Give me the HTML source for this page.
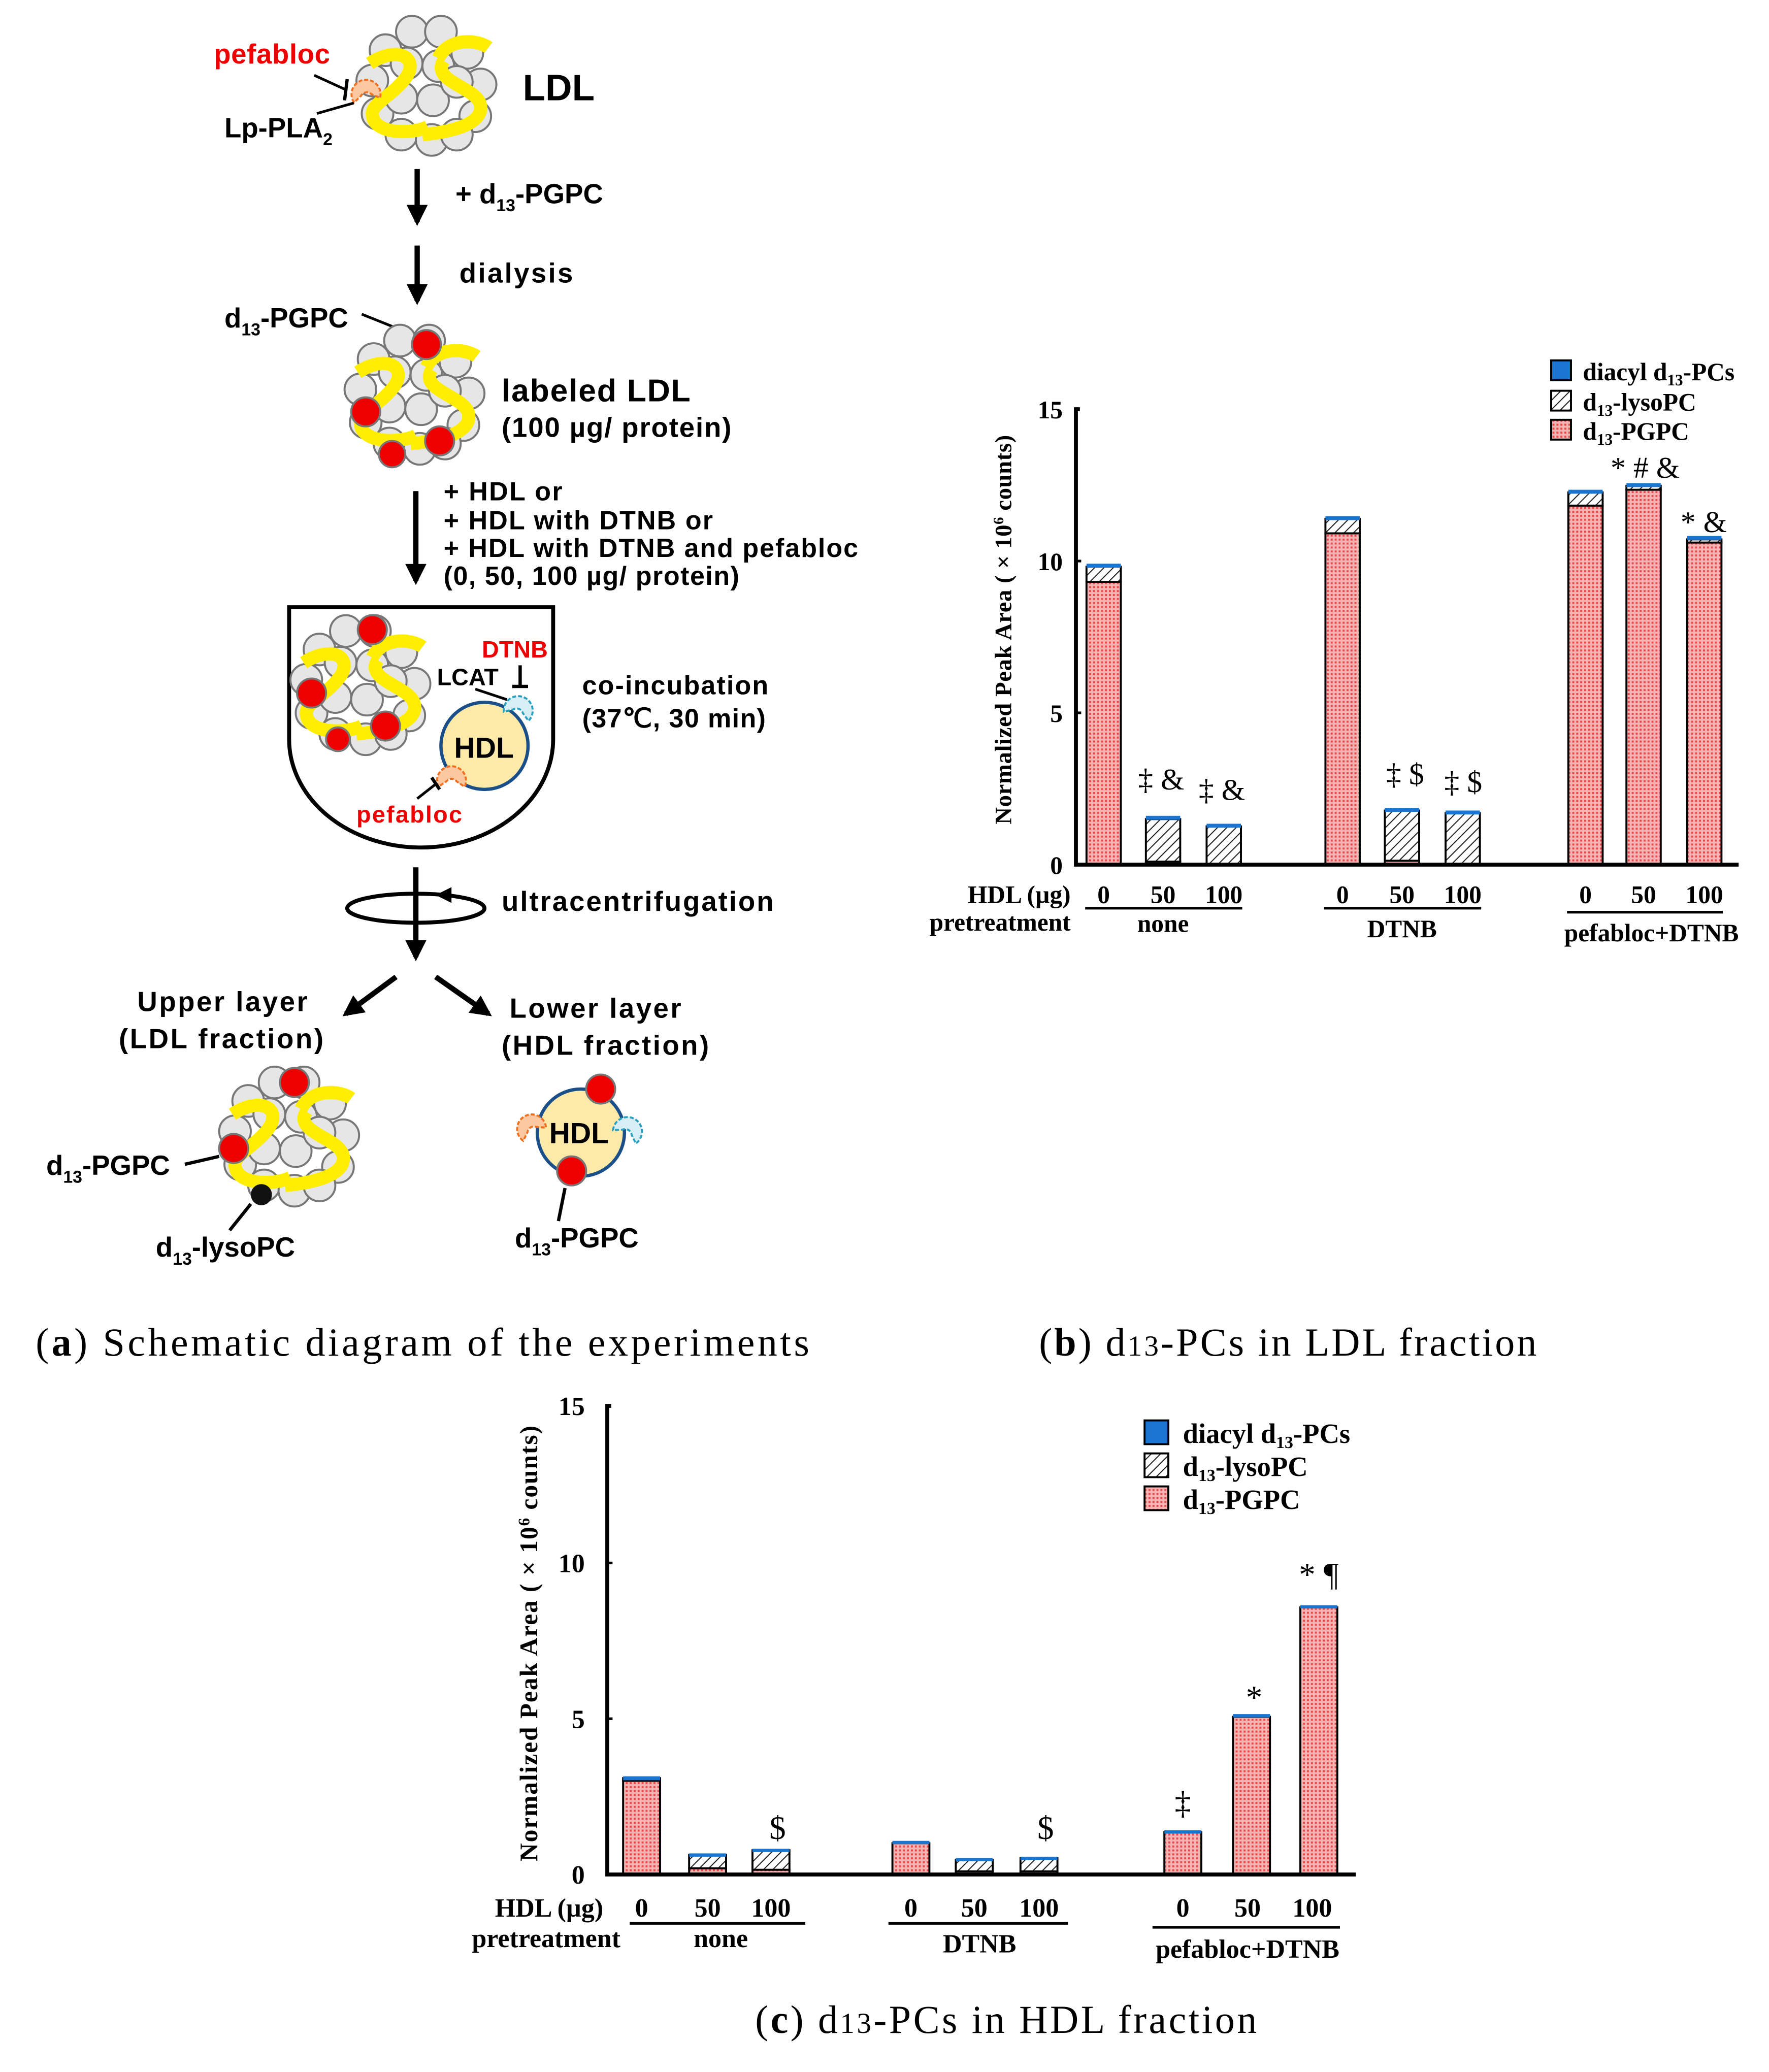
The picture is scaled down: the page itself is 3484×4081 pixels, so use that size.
<!DOCTYPE html>
<html><head><meta charset="utf-8"><style>
html,body{margin:0;padding:0;background:#fff;}
svg{display:block;}
.s{font-family:"Liberation Sans",sans-serif;font-weight:bold;}
.r{font-family:"Liberation Serif",serif;font-weight:bold;}
.c{font-family:"Liberation Serif",serif;}
</style></head><body>
<svg width="3484" height="4081" viewBox="0 0 1340 1569.6" xmlns="http://www.w3.org/2000/svg">
<defs>
<pattern id="dot" width="3" height="3" patternUnits="userSpaceOnUse"><rect width="3" height="3" fill="#f6b3b3"/><rect width="1.5" height="1.5" fill="#e84a4a"/></pattern>
<pattern id="hat" width="5" height="5" patternUnits="userSpaceOnUse" patternTransform="rotate(45)"><rect width="5" height="5" fill="#fff"/><line x1="0" y1="0" x2="0" y2="5" stroke="#222" stroke-width="1.6"/></pattern>
<marker id="ah" viewBox="0 0 10 10" refX="8" refY="5" markerWidth="4" markerHeight="4" orient="auto"><path d="M0,0 L10,5 L0,10 z" fill="#000"/></marker>
<g id="ldl">
<g fill="#e6e6e6" stroke="#777" stroke-width="1.5">
<circle cx="-10" cy="-42" r="12"/><circle cx="12" cy="-42" r="12"/><circle cx="-30" cy="-28" r="12"/><circle cx="32" cy="-26" r="12"/>
<circle cx="-40" cy="-5" r="12"/><circle cx="42" cy="-2" r="12"/><circle cx="-36" cy="20" r="12"/><circle cx="38" cy="22" r="12"/>
<circle cx="-18" cy="36" r="12"/><circle cx="5" cy="40" r="12"/><circle cx="24" cy="36" r="12"/>
<circle cx="-14" cy="-18" r="12"/><circle cx="10" cy="-16" r="12"/><circle cx="-18" cy="8" r="12"/><circle cx="6" cy="10" r="12"/><circle cx="24" cy="-4" r="12"/>
</g>
<g fill="none" stroke="#ffee00" stroke-width="10" stroke-linecap="butt">
<path d="M-42,-18 C-20,-32 -5,-22 -14,-8 C-24,6 -40,12 -40,20 C-40,36 -10,36 2,30"/>
<path d="M10,-22 C18,-38 40,-36 48,-30 M14,-20 C4,-4 40,0 42,14 C44,28 20,34 -2,36"/>
</g>
</g>
<g id="hdl"><circle r="33" fill="#fde9a8" stroke="#1a4f8a" stroke-width="2.5"/></g>
<g id="pla"><path d="M-10,6 A11,11 0 1 1 10,6 L4,2 A5,5 0 0 0 -4,2 Z" fill="#fbc8a0" stroke="#f07020" stroke-width="1.5" stroke-dasharray="3,1.5"/></g>
<g id="lcat"><path d="M-10,6 A11,11 0 1 1 10,6 L4,2 A5,5 0 0 0 -4,2 Z" fill="#d8eef5" stroke="#2aa0c0" stroke-width="1.5" stroke-dasharray="3,1.5"/></g>
</defs>
<rect width="1340" height="1569.6" fill="#fff"/>

<!-- ===== Schematic (a) ===== -->
<use href="#ldl" x="322" y="66"/>
<use href="#pla" x="277" y="70" transform="rotate(-10 277 70)"/>
<text class="s" x="162" y="48" font-size="21" fill="#e00" textLength="88">pefabloc</text>
<line x1="238" y1="57" x2="262" y2="68" stroke="#000" stroke-width="2"/><line x1="263" y1="60" x2="261" y2="76" stroke="#000" stroke-width="2.5"/>
<line x1="240" y1="86" x2="268" y2="78" stroke="#000" stroke-width="2"/>
<text class="s" x="170" y="104" font-size="21">Lp-PLA<tspan font-size="13" dy="6">2</tspan></text>
<text class="s" x="396" y="76" font-size="28">LDL</text>

<line x1="316" y1="128" x2="316" y2="168" stroke="#000" stroke-width="4" marker-end="url(#ah)"/>
<text class="s" x="345" y="154" font-size="21">+ d<tspan font-size="13" dy="6">13</tspan><tspan dy="-6">-PGPC</tspan></text>
<line x1="316" y1="186" x2="316" y2="228" stroke="#000" stroke-width="4" marker-end="url(#ah)"/>
<text class="s" x="348" y="214" font-size="21" textLength="86">dialysis</text>

<text class="s" x="170" y="248" font-size="21">d<tspan font-size="13" dy="6">13</tspan><tspan dy="-6">-PGPC</tspan></text>
<line x1="274" y1="238" x2="314" y2="254" stroke="#000" stroke-width="2"/>
<use href="#ldl" x="313" y="300"/>
<g fill="#e00" stroke="#777" stroke-width="1.5"><circle cx="323" cy="261" r="11"/><circle cx="277" cy="312" r="11"/><circle cx="333" cy="334" r="11"/><circle cx="297" cy="344" r="10"/></g>
<text class="s" x="380" y="304" font-size="24" textLength="143">labeled LDL</text>
<text class="s" x="380" y="331" font-size="21" textLength="174">(100 µg/ protein)</text>

<line x1="315" y1="372" x2="315" y2="440" stroke="#000" stroke-width="4" marker-end="url(#ah)"/>
<g class="s" font-size="20"><text x="336" y="379" textLength="90">+ HDL or</text><text x="336" y="401" textLength="204">+ HDL with DTNB or</text><text x="336" y="422" textLength="314">+ HDL with DTNB and pefabloc</text><text x="336" y="443" textLength="224">(0, 50, 100 µg/ protein)</text></g>

<path d="M219,460 L219,560 A100,82 0 0 0 419,560 L419,460 Z" fill="none" stroke="#000" stroke-width="3"/>
<use href="#ldl" x="272" y="520"/>
<g fill="#e00" stroke="#777" stroke-width="1.5"><circle cx="282" cy="477" r="11"/><circle cx="236" cy="525" r="11"/><circle cx="292" cy="550" r="11"/><circle cx="256" cy="560" r="9"/></g>
<use href="#hdl" x="367" y="565"/>
<text class="s" x="344" y="574" font-size="22">HDL</text>
<use href="#lcat" x="393" y="537" transform="rotate(20 393 537)"/>
<text class="s" x="365" y="498" font-size="18" fill="#e00" font-weight="normal">DTNB</text>
<text class="s" x="331" y="519" font-size="18" font-weight="normal">LCAT</text>
<line x1="360" y1="522" x2="384" y2="530" stroke="#000" stroke-width="2"/>
<line x1="394" y1="504" x2="394" y2="520" stroke="#000" stroke-width="2.5"/><line x1="388" y1="520" x2="400" y2="520" stroke="#000" stroke-width="2.5"/>
<use href="#pla" x="342" y="590"/>
<line x1="316" y1="605" x2="330" y2="594" stroke="#000" stroke-width="2"/><line x1="327" y1="589" x2="333" y2="598" stroke="#000" stroke-width="2.5"/>
<text class="s" x="270" y="623" font-size="18" fill="#e00" font-weight="normal" textLength="80">pefabloc</text>
<text class="s" x="441" y="526" font-size="20" textLength="141">co-incubation</text>
<text class="s" x="441" y="551" font-size="20" textLength="139">(37℃, 30 min)</text>

<line x1="315" y1="657" x2="315" y2="725" stroke="#000" stroke-width="4" marker-end="url(#ah)"/>
<ellipse cx="315" cy="688" rx="52" ry="11" fill="none" stroke="#000" stroke-width="3"/>
<path d="M330,678 l12,-6 l0,12 z" fill="#000"/>
<text class="s" x="380" y="690" font-size="21" textLength="206">ultracentrifugation</text>
<line x1="300" y1="740" x2="262" y2="768" stroke="#000" stroke-width="4" marker-end="url(#ah)"/>
<line x1="330" y1="740" x2="370" y2="768" stroke="#000" stroke-width="4" marker-end="url(#ah)"/>
<text class="s" x="104" y="766" font-size="21" textLength="129">Upper layer</text>
<text class="s" x="90" y="794" font-size="21" textLength="155">(LDL fraction)</text>
<text class="s" x="386" y="771" font-size="21" textLength="130">Lower layer</text>
<text class="s" x="380" y="799" font-size="21" textLength="157">(HDL fraction)</text>

<use href="#ldl" x="218" y="862"/>
<g fill="#e00" stroke="#777" stroke-width="1.5"><circle cx="223" cy="820" r="11"/><circle cx="177" cy="870" r="11"/></g>
<circle cx="198" cy="905" r="8" fill="#111"/>
<text class="s" x="35" y="890" font-size="21">d<tspan font-size="13" dy="6">13</tspan><tspan dy="-6">-PGPC</tspan></text>
<line x1="140" y1="882" x2="166" y2="876" stroke="#000" stroke-width="2.5"/>
<line x1="174" y1="932" x2="190" y2="912" stroke="#000" stroke-width="2.5"/>
<text class="s" x="118" y="952" font-size="21">d<tspan font-size="13" dy="6">13</tspan><tspan dy="-6">-lysoPC</tspan></text>

<use href="#hdl" x="440" y="858"/>
<text class="s" x="416" y="866" font-size="22">HDL</text>
<use href="#pla" x="402" y="854" transform="rotate(-30 402 854)"/>
<use href="#lcat" x="476" y="856" transform="rotate(30 476 856)"/>
<g fill="#e00" stroke="#777" stroke-width="1.5"><circle cx="455" cy="825" r="11"/><circle cx="433" cy="887" r="11"/></g>
<line x1="428" y1="900" x2="423" y2="925" stroke="#000" stroke-width="2.5"/>
<text class="s" x="390" y="945" font-size="21">d<tspan font-size="13" dy="6">13</tspan><tspan dy="-6">-PGPC</tspan></text>

<text class="c" x="27" y="1027" font-size="30" textLength="586">(<tspan font-weight="bold">a</tspan>) Schematic diagram of the experiments</text>
<text class="c" x="787" y="1027" font-size="30" textLength="377">(<tspan font-weight="bold">b</tspan>) d<tspan font-size="22">13</tspan>-PCs in LDL fraction</text>
<text class="c" x="572" y="1540" font-size="30" textLength="380">(<tspan font-weight="bold">c</tspan>) d<tspan font-size="22">13</tspan>-PCs in HDL fraction</text>

<!-- ===== Chart b ===== -->
<g class="r">
<g stroke="#000" stroke-width="1.5">
<rect x="823" y="440.8" width="26" height="214.2" fill="url(#dot)"/>
<rect x="823" y="429.3" width="26" height="11.5" fill="url(#hat)"/>
<rect x="868" y="652.7" width="26" height="2.3" fill="url(#dot)"/>
<rect x="868" y="620.5" width="26" height="32.2" fill="url(#hat)"/>
<rect x="914" y="626" width="26" height="29" fill="url(#hat)"/>
<rect x="1004" y="404" width="26" height="251" fill="url(#dot)"/>
<rect x="1004" y="393" width="26" height="11" fill="url(#hat)"/>
<rect x="1049" y="652" width="26" height="3" fill="url(#dot)"/>
<rect x="1049" y="614" width="26" height="38" fill="url(#hat)"/>
<rect x="1095" y="616" width="26" height="39" fill="url(#hat)"/>
<rect x="1188" y="383" width="26" height="272" fill="url(#dot)"/>
<rect x="1188" y="373" width="26" height="10" fill="url(#hat)"/>
<rect x="1232" y="371" width="26" height="284" fill="url(#dot)"/>
<rect x="1232" y="368" width="26" height="3" fill="url(#hat)"/>
<rect x="1278" y="411" width="26" height="244" fill="url(#dot)"/>
<rect x="1278" y="408.6" width="26" height="2.4" fill="url(#hat)"/>
</g>
<g fill="#1a75d0"><rect x="823" y="427" width="26" height="3"/><rect x="868" y="618" width="26" height="3"/><rect x="914" y="624" width="26" height="3"/><rect x="1004" y="391" width="26" height="3"/><rect x="1049" y="612" width="26" height="3"/><rect x="1095" y="614" width="26" height="3"/><rect x="1188" y="371" width="26" height="3"/><rect x="1232" y="366" width="26" height="3"/><rect x="1278" y="406" width="26" height="3"/></g>
<path d="M818,310 L815,310 L815,655 L1317,655" fill="none" stroke="#000" stroke-width="3"/>
<g font-size="19" text-anchor="end"><text x="805" y="317">15</text><text x="805" y="432">10</text><text x="805" y="547">5</text><text x="805" y="662">0</text></g>
<line x1="815" y1="425" x2="819" y2="425" stroke="#000" stroke-width="2"/><line x1="815" y1="540" x2="819" y2="540" stroke="#000" stroke-width="2"/>
<text transform="translate(766,477) rotate(-90)" font-size="18" text-anchor="middle" textLength="295">Normalized Peak Area ( × 10<tspan font-size="11" dy="-6">6</tspan><tspan dy="6"> counts)</tspan></text>
<g font-size="19" text-anchor="middle">
<text x="836" y="684">0</text><text x="881" y="684">50</text><text x="927" y="684">100</text>
<text x="1017" y="684">0</text><text x="1062" y="684">50</text><text x="1108" y="684">100</text>
<text x="1201" y="684">0</text><text x="1245" y="684">50</text><text x="1291" y="684">100</text>
<text x="881" y="706">none</text><text x="1062" y="710">DTNB</text><text x="1251" y="713">pefabloc+DTNB</text>
</g>
<text x="811" y="684" font-size="19" text-anchor="end">HDL (µg)</text>
<text x="811" y="705" font-size="19" text-anchor="end">pretreatment</text>
<g stroke="#000" stroke-width="2"><line x1="822" y1="688" x2="941" y2="688"/><line x1="1003" y1="688" x2="1122" y2="688"/><line x1="1187" y1="691" x2="1305" y2="691"/></g>
<g font-size="23" font-weight="normal" class="c"><text x="862" y="598">‡ &amp;</text><text x="908" y="606">‡ &amp;</text><text x="1050" y="594">‡ $</text><text x="1094" y="600">‡ $</text><text x="1220" y="362">* # &amp;</text><text x="1273" y="403">* &amp;</text></g>
<g stroke="#000" stroke-width="1.5"><rect x="1175" y="273" width="15" height="15" fill="#1a75d0"/><rect x="1175" y="296" width="15" height="15" fill="url(#hat)"/><rect x="1175" y="318" width="15" height="15" fill="url(#dot)"/></g>
<g font-size="19"><text x="1199" y="288">diacyl d<tspan font-size="12" dy="4">13</tspan><tspan dy="-4">-PCs</tspan></text><text x="1199" y="311">d<tspan font-size="12" dy="4">13</tspan><tspan dy="-4">-lysoPC</tspan></text><text x="1199" y="333">d<tspan font-size="12" dy="4">13</tspan><tspan dy="-4">-PGPC</tspan></text></g>
</g>

<!-- ===== Chart c ===== -->
<g class="r">
<g stroke="#000" stroke-width="1.5">
<rect x="472" y="1349" width="28" height="71" fill="url(#dot)"/>
<rect x="472" y="1347" width="28" height="2" fill="url(#hat)"/>
<rect x="522" y="1415.3" width="28" height="4.7" fill="url(#dot)"/>
<rect x="522" y="1405" width="28" height="10.3" fill="url(#hat)"/>
<rect x="570" y="1416.4" width="28" height="3.6" fill="url(#dot)"/>
<rect x="570" y="1401.6" width="28" height="14.8" fill="url(#hat)"/>
<rect x="676" y="1396.3" width="28" height="23.7" fill="url(#dot)"/>
<rect x="724" y="1417.6" width="28" height="2.4" fill="url(#dot)"/>
<rect x="724" y="1408.8" width="28" height="8.8" fill="url(#hat)"/>
<rect x="773" y="1417.6" width="28" height="2.4" fill="url(#dot)"/>
<rect x="773" y="1407.6" width="28" height="10" fill="url(#hat)"/>
<rect x="882" y="1388" width="28" height="32" fill="url(#dot)"/>
<rect x="934" y="1300.5" width="28" height="119.5" fill="url(#dot)"/>
<rect x="985" y="1217.6" width="28" height="202.4" fill="url(#dot)"/>
</g>
<g fill="#1a75d0"><rect x="472" y="1345.6" width="28" height="3"/><rect x="522" y="1404" width="28" height="2.5"/><rect x="570" y="1400.5" width="28" height="2.5"/><rect x="676" y="1394.5" width="28" height="2.5"/><rect x="724" y="1407.5" width="28" height="2.5"/><rect x="773" y="1406.5" width="28" height="2.5"/><rect x="882" y="1386.5" width="28" height="2.5"/><rect x="934" y="1298.5" width="28" height="2.5"/><rect x="985" y="1216" width="28" height="2.5"/></g>
<path d="M463,1065 L460,1065 L460,1420 L1027,1420" fill="none" stroke="#000" stroke-width="3"/>
<g font-size="20" text-anchor="end"><text x="443" y="1072">15</text><text x="443" y="1191">10</text><text x="443" y="1309">5</text><text x="443" y="1427">0</text></g>
<line x1="460" y1="1184" x2="464" y2="1184" stroke="#000" stroke-width="2"/><line x1="460" y1="1302" x2="464" y2="1302" stroke="#000" stroke-width="2"/>
<text transform="translate(407,1245) rotate(-90)" font-size="19" text-anchor="middle" textLength="330">Normalized Peak Area ( × 10<tspan font-size="12" dy="-6">6</tspan><tspan dy="6"> counts)</tspan></text>
<g font-size="20" text-anchor="middle">
<text x="486" y="1452">0</text><text x="536" y="1452">50</text><text x="584" y="1452">100</text>
<text x="690" y="1452">0</text><text x="738" y="1452">50</text><text x="787" y="1452">100</text>
<text x="896" y="1452">0</text><text x="945" y="1452">50</text><text x="994" y="1452">100</text>
<text x="546" y="1475">none</text><text x="742" y="1479">DTNB</text><text x="945" y="1483">pefabloc+DTNB</text>
</g>
<text x="457" y="1452" font-size="20" text-anchor="end">HDL (µg)</text>
<text x="470" y="1475" font-size="20" text-anchor="end">pretreatment</text>
<g stroke="#000" stroke-width="2"><line x1="477" y1="1457" x2="610" y2="1457"/><line x1="673" y1="1457" x2="809" y2="1457"/><line x1="873" y1="1460" x2="1015" y2="1460"/></g>
<g font-size="25" font-weight="normal" class="c" text-anchor="middle"><text x="589" y="1393">$</text><text x="792" y="1393">$</text><text x="896" y="1374">‡</text><text x="950" y="1294">*</text><text x="999" y="1201">* ¶</text></g>
<g stroke="#000" stroke-width="1.5"><rect x="867" y="1076" width="18" height="18" fill="#1a75d0"/><rect x="867" y="1101" width="18" height="18" fill="url(#hat)"/><rect x="867" y="1126" width="18" height="18" fill="url(#dot)"/></g>
<g font-size="21"><text x="896" y="1093">diacyl d<tspan font-size="13" dy="4">13</tspan><tspan dy="-4">-PCs</tspan></text><text x="896" y="1118">d<tspan font-size="13" dy="4">13</tspan><tspan dy="-4">-lysoPC</tspan></text><text x="896" y="1143">d<tspan font-size="13" dy="4">13</tspan><tspan dy="-4">-PGPC</tspan></text></g>
</g>
</svg>
</body></html>
